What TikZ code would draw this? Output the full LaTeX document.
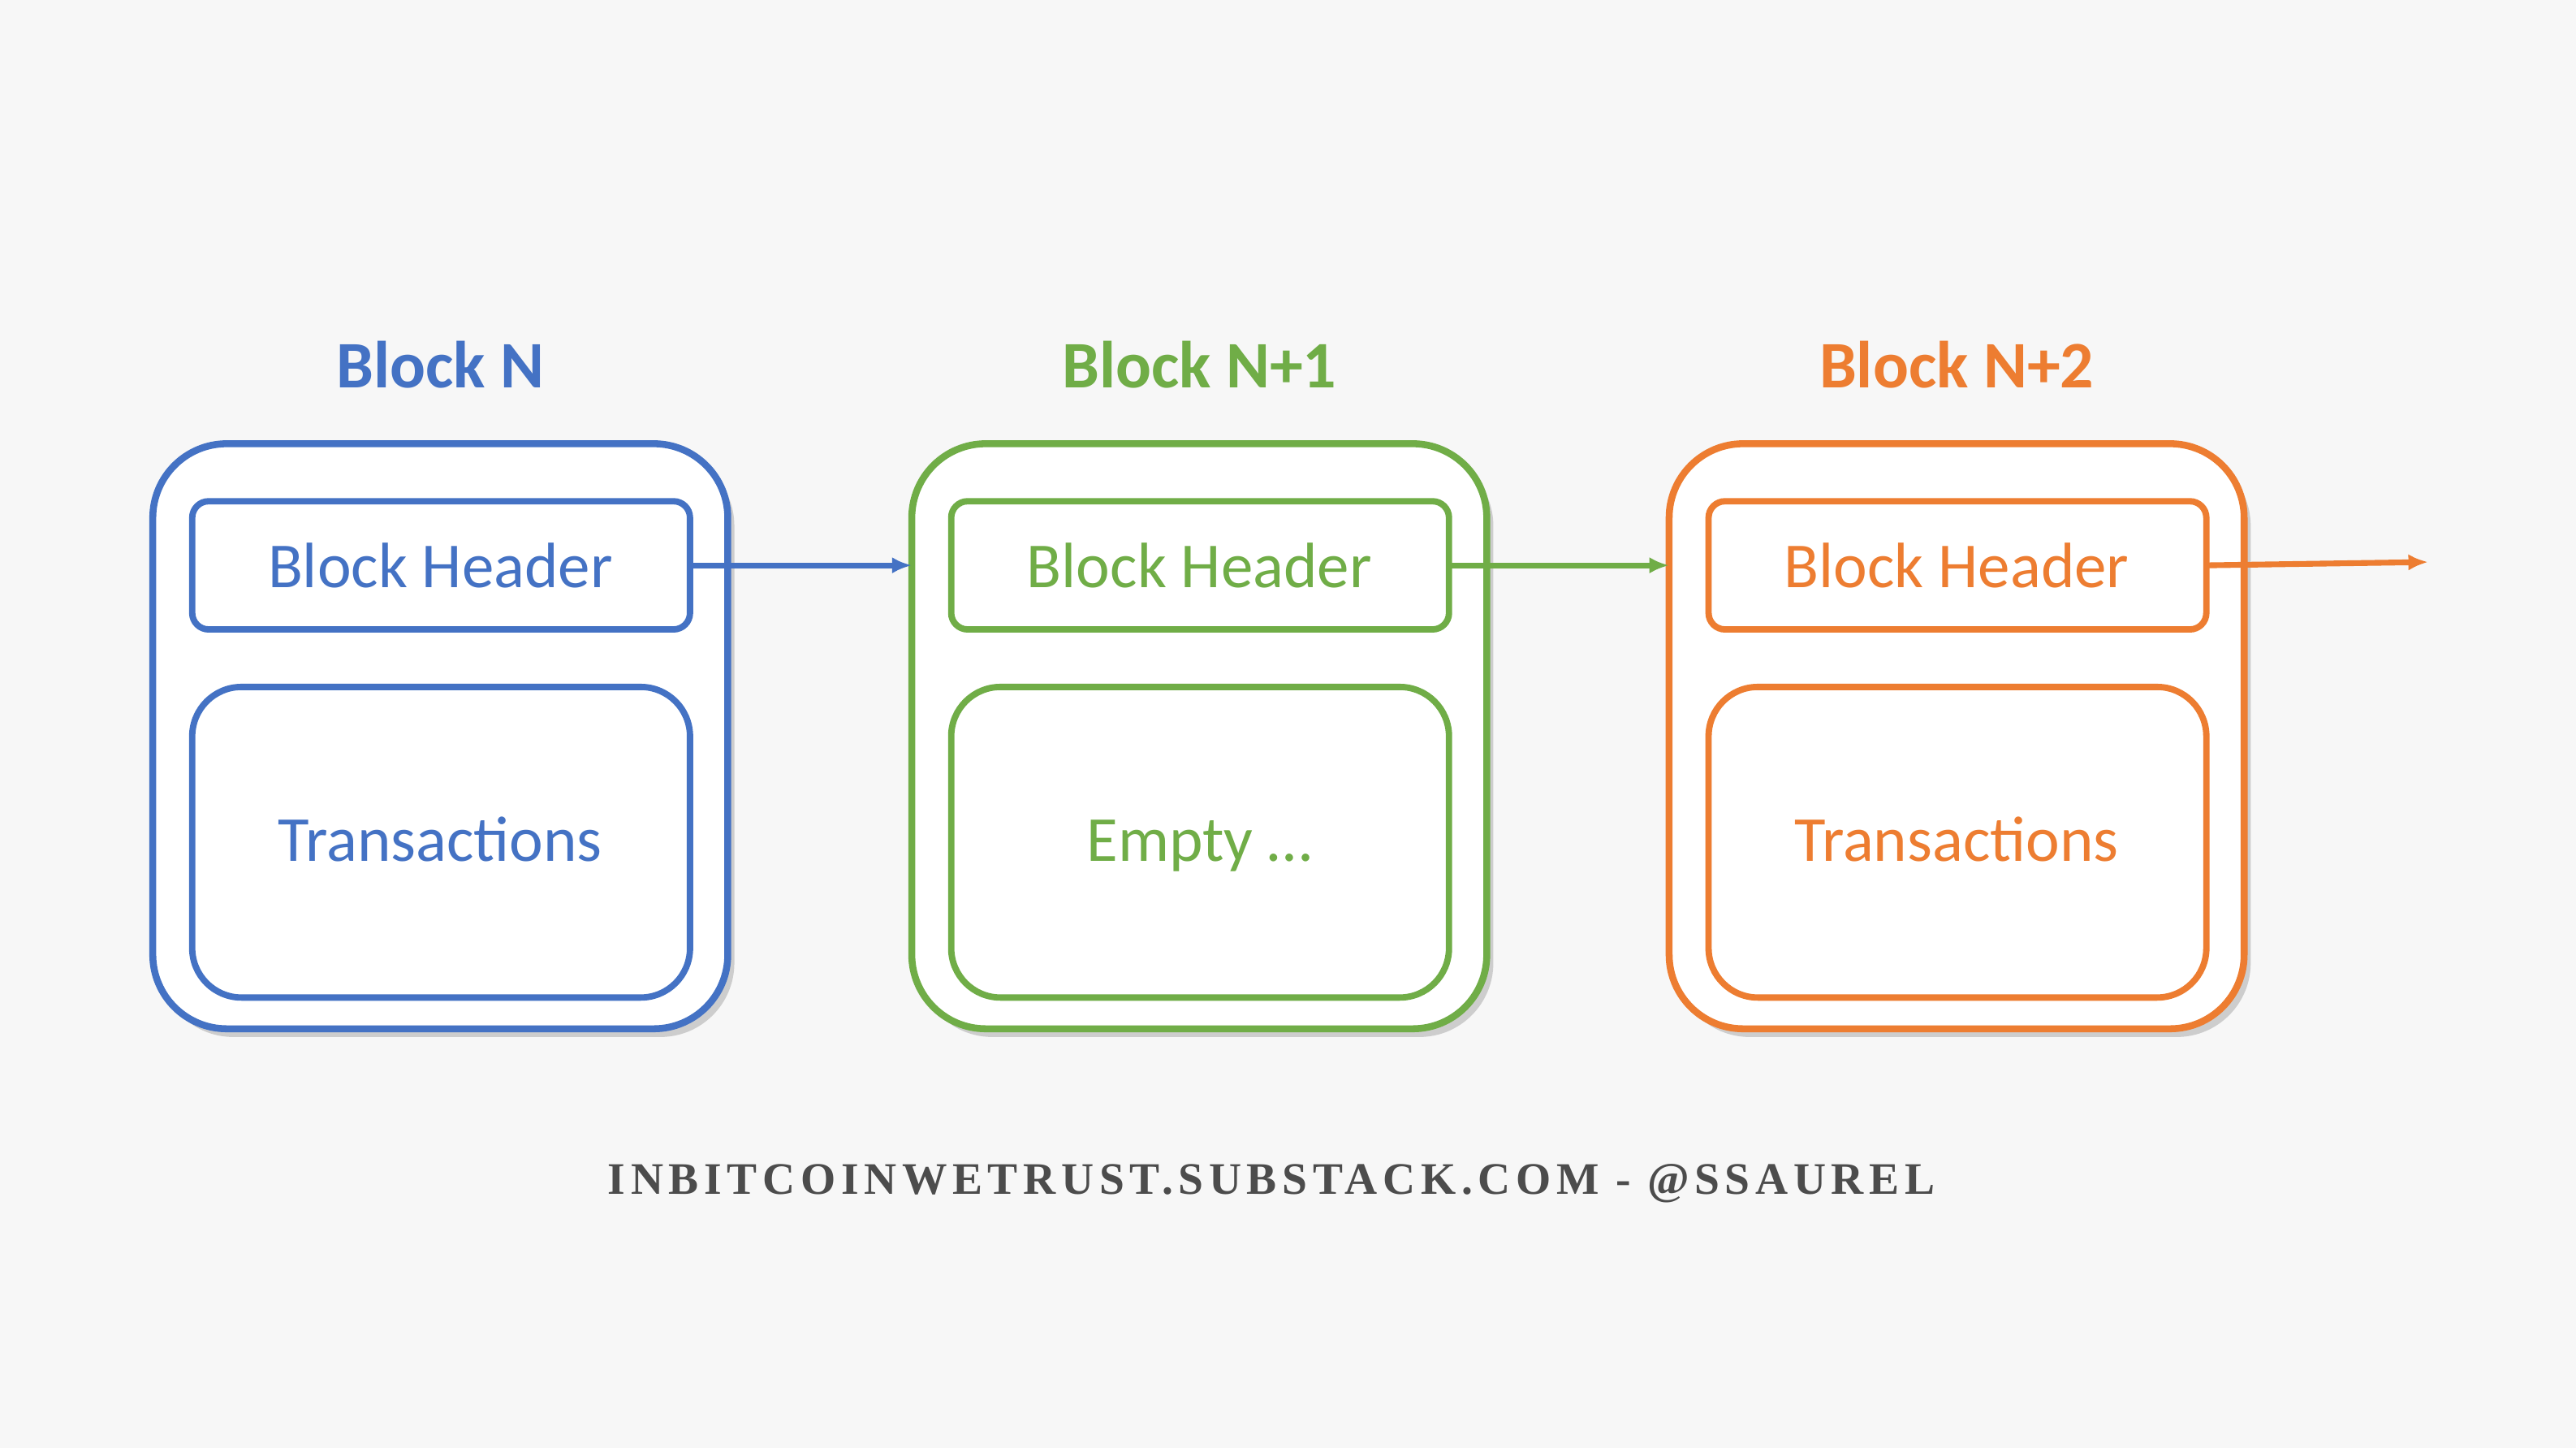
\documentclass[tikz,border=0pt]{standalone}
\usepackage{fontspec}
\setmainfont{Carlito}
\newfontfamily\footfont[LetterSpace=12]{Liberation Serif}
\usetikzlibrary{shadows,arrows.meta}
\definecolor{cb}{HTML}{4472C4}
\definecolor{cg}{HTML}{70AD47}
\definecolor{co}{HTML}{ED7D31}
\definecolor{bg}{HTML}{F7F7F7}
\begin{document}
\begin{tikzpicture}[x=0.01cm,y=-0.01cm,
  outer/.style={draw=#1,line width=1.2pt,rounded corners=0.45cm,fill=white,drop shadow={shadow xshift=0.04cm,shadow yshift=-0.05cm,opacity=0.35}},
  inner/.style={draw=#1,line width=1.1pt,fill=white},
  ttl/.style={text=#1,font=\bfseries\fontsize{11.5}{13}\selectfont},
  lab/.style={text=#1,font=\fontsize{11.1}{13}\selectfont},
  arr/.style={draw=#1,line width=1pt,-{Latex[length=0.12cm,width=0.1cm]}}]
\fill[bg] (0,0) rectangle (1568,881);
\useasboundingbox (0,0) rectangle (1568,881);
\foreach \c/\x/\t/\body/\n in {cb/93/Block N/Transactions/a, cg/555/Block N+1/Empty \dots/b, co/1016/Block N+2/Transactions/c}{
  \draw[outer=\c] (\x,270) rectangle ++(350,356);
  \draw[inner=\c,rounded corners=0.1cm] (\x+24,305) rectangle (\x+327,383);
  \draw[inner=\c,rounded corners=0.3cm] (\x+24,418) rectangle (\x+327,607);
  \node[ttl=\c] (t\n) at (\x+175,222) {\t};
  \node[lab=\c] (h\n) at (\x+175,344) {Block Header};
  \node[lab=\c,anchor=base] (b\n) at (\x+175,524) {\body};
  \coordinate (hr\n) at (\x+327,344);
  \coordinate (ol\n) at (\x,344);
}
\coordinate (end) at (1478,342);
\draw[arr=cb] (hra) -- (olb);
\draw[arr=cg] (hrb) -- (olc);
\draw[arr=co] (hrc) -- (end);
\node[text=black!70,font=\footfont\bfseries\fontsize{7.8}{9}\selectfont] (f) at (774,720) {INBITCOINWETRUST.SUBSTACK.COM - @SSAUREL};
\end{tikzpicture}
\end{document}
